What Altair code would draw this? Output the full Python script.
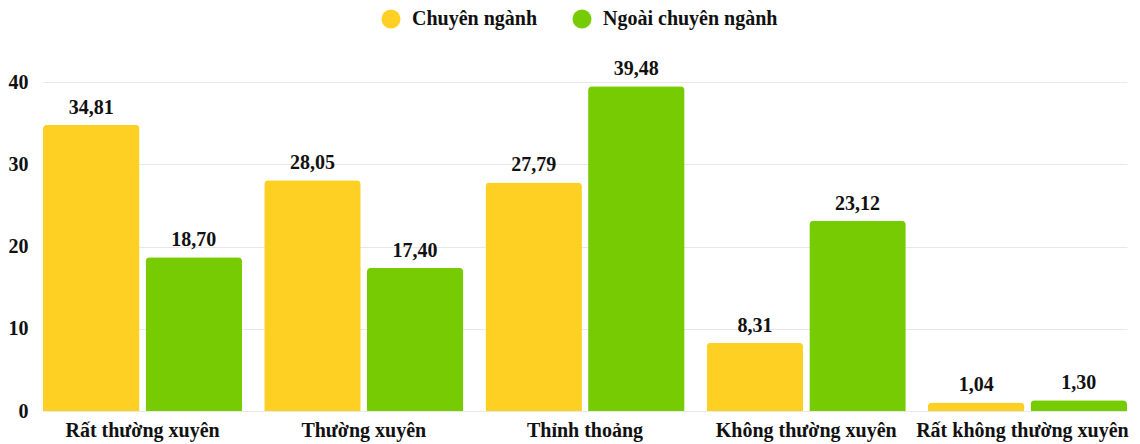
import altair as alt
import pandas as pd

categories = ["Rất thường xuyên", "Thường xuyên", "Thỉnh thoảng", "Không thường xuyên", "Rất không thường xuyên"]
series = ["Chuyên ngành", "Ngoài chuyên ngành"]
chuyen_nganh = [34.81, 28.05, 27.79, 8.31, 1.04]
ngoai_chuyen_nganh = [18.70, 17.40, 39.48, 23.12, 1.30]
colors = ["#FDD023", "#76CB02"]
y_ticks = [0, 10, 20, 30, 40]

rows = []
for i, c in enumerate(categories):
    rows.append({"cat": c, "series": series[0], "value": chuyen_nganh[i]})
    rows.append({"cat": c, "series": series[1], "value": ngoai_chuyen_nganh[i]})
df = pd.DataFrame(rows)

FONT = "Liberation Serif"
last_cat = categories[-1]

x = alt.X("cat:N", sort=categories, title=None,
          scale=alt.Scale(paddingInner=0.1, paddingOuter=0),
          axis=alt.Axis(labelAngle=0, domain=False, ticks=False, labelPadding=9,
                        labelLimit=0,
                        labelOffset={"condition": {"test": f"datum.value === '{last_cat}'", "value": -5}, "value": 0},
                        labelFont=FONT, labelFontWeight="bold", labelFontSize=20,
                        labelColor="#111111"))
xoff = alt.XOffset("series:N", sort=series, scale=alt.Scale(paddingInner=0.06))

bars = alt.Chart(df).mark_bar(cornerRadiusTopLeft=4, cornerRadiusTopRight=4).encode(
    x=x,
    xOffset=xoff,
    y=alt.Y("value:Q", title=None,
            scale=alt.Scale(domain=[0, 40], nice=False),
            axis=alt.Axis(values=y_ticks, domain=False, ticks=False, labelPadding=15,
                          gridColor="#e8e8e8", labelFont=FONT, labelFontWeight="bold",
                          labelFontSize=20, labelColor="#111111")),
    color=alt.Color("series:N", sort=series,
                    scale=alt.Scale(domain=series, range=colors),
                    legend=alt.Legend(title=None, orient="none", direction="horizontal",
                                      legendX=338, legendY=-73, symbolType="circle",
                                      symbolSize=360, symbolStrokeWidth=0,
                                      labelFont=FONT, labelFontWeight="bold",
                                      labelFontSize=20, labelColor="#111111",
                                      columnPadding=34, labelOffset=11,
                                      labelLimit=0)),
)

labels = alt.Chart(df).transform_calculate(
    txt="replace(format(datum.value, '.2f'), '.', ',')"
).mark_text(baseline="bottom", dy=-7, font=FONT, fontWeight="bold", fontSize=20,
            color="#111111").encode(
    x=alt.X("cat:N", sort=categories),
    xOffset=alt.XOffset("series:N", sort=series),
    y="value:Q",
    text="txt:N",
)

chart = alt.layer(bars, labels).properties(
    width=1084, height=329,
    autosize=alt.AutoSizeParams(type="none"),
    padding={"left": 35, "top": 74, "right": 5, "bottom": 34},
).configure_view(stroke=None)

chart.save("out.html", embed_options={"renderer": "svg", "actions": False})
